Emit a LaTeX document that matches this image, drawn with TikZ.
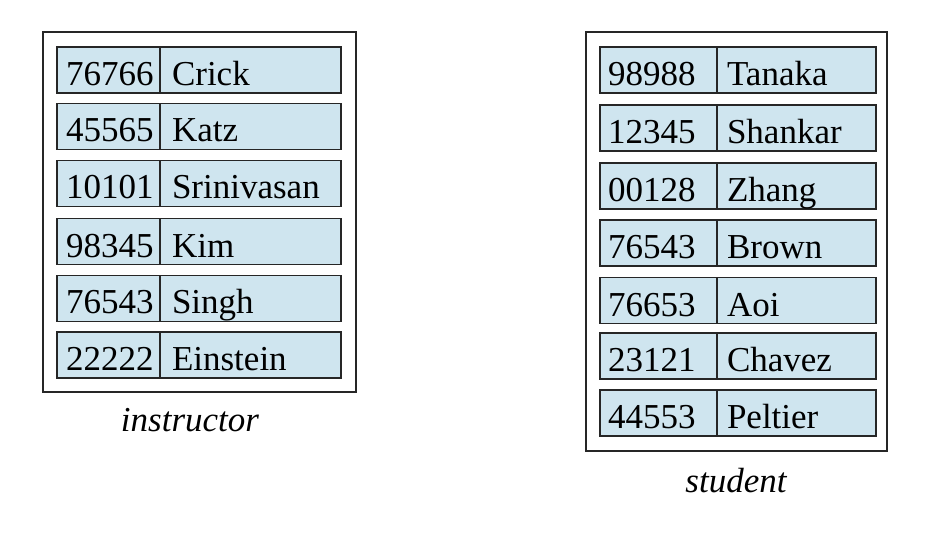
\documentclass[tikz,border=0pt]{standalone}
\usepackage{fontspec}
\setmainfont{Liberation Serif}
\usetikzlibrary{positioning}
\definecolor{cellblue}{RGB}{207,229,239}

\begin{document}
\begin{tikzpicture}[x=0.5pt,y=-0.5pt]
    \useasboundingbox (0,0) rectangle (942,534);
    \tikzstyle{cell} = [draw=black!85,line width=0.9pt,fill=cellblue,minimum height=23pt,outer sep=0pt,
        text height=15.5pt,text depth=0pt,align=left,font=\fontsize{17.5}{20}\selectfont]
    \tikzstyle{iid} = [cell,anchor=west,inner xsep=4.5pt,text width=42.5pt]
    \tikzstyle{iname} = [cell,inner xsep=6pt,text width=78.5pt]
    \tikzstyle{sid} = [cell,anchor=west,inner xsep=4pt,text width=50.5pt]
    \tikzstyle{sname} = [cell,inner xsep=5pt,text width=69.5pt]
    \tikzstyle{frame} = [draw=black!85,line width=0.75pt]
    \tikzstyle{relname} = [anchor=base,font=\fontsize{17.5}{20}\selectfont\itshape]
    % instructor
    \draw [frame] (43,32) rectangle (356,392);
    \node [iid] (i1) at (57,70) {76766};
    \node [iname,right=0pt of i1] (in1) {Crick};
    \node [iid] (i2) at (57,126.5) {45565};
    \node [iname,right=0pt of i2] (in2) {Katz};
    \node [iid] (i3) at (57,183.5) {10101};
    \node [iname,right=0pt of i3] (in3) {Srinivasan};
    \node [iid] (i4) at (57,241.5) {98345};
    \node [iname,right=0pt of i4] (in4) {Kim};
    \node [iid] (i5) at (57,298.5) {76543};
    \node [iname,right=0pt of i5] (in5) {Singh};
    \node [iid] (i6) at (57,355) {22222};
    \node [iname,right=0pt of i6] (in6) {Einstein};
    \node [relname] (instr) at (190,431) {instructor};
    % student
    \draw [frame] (586,32) rectangle (887,451);
    \node [sid] (s1) at (600,70) {98988};
    \node [sname,right=0pt of s1] (sn1) {Tanaka};
    \node [sid] (s2) at (600,128) {12345};
    \node [sname,right=0pt of s2] (sn2) {Shankar};
    \node [sid] (s3) at (600,186) {00128};
    \node [sname,right=0pt of s3] (sn3) {Zhang};
    \node [sid] (s4) at (600,243) {76543};
    \node [sname,right=0pt of s4] (sn4) {Brown};
    \node [sid] (s5) at (600,300.5) {76653};
    \node [sname,right=0pt of s5] (sn5) {Aoi};
    \node [sid] (s6) at (600,356) {23121};
    \node [sname,right=0pt of s6] (sn6) {Chavez};
    \node [sid] (s7) at (600,413) {44553};
    \node [sname,right=0pt of s7] (sn7) {Peltier};
    \node [relname] (stud) at (736,492) {student};
\end{tikzpicture}
\end{document}
